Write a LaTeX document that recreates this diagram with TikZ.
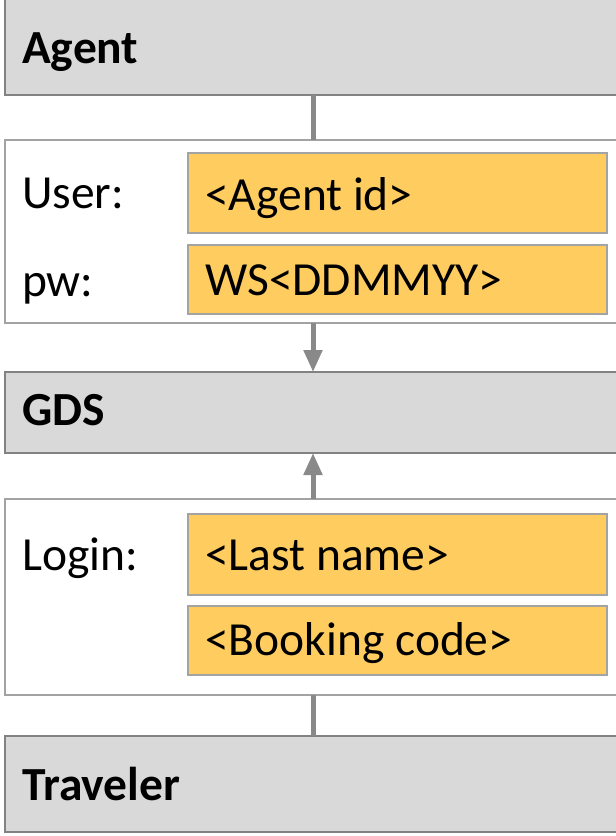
\documentclass[tikz,border=0pt]{standalone}
\usepackage{fontspec}
\setmainfont{Carlito}
\usetikzlibrary{arrows.meta}
\definecolor{fillgray}{HTML}{D9D9D9}
\definecolor{edgegray}{HTML}{828282}
\definecolor{lightedge}{HTML}{A3A3A3}
\definecolor{orangefill}{HTML}{FFCD5F}
\definecolor{conngray}{HTML}{898989}
\begin{document}
\begin{tikzpicture}[x=1pt,y=-1pt,
  box/.style={inner sep=0pt, outer sep=0pt, anchor=north west, line width=2pt},
  graybox/.style={box, draw=edgegray, fill=fillgray, minimum width=620pt},
  whitebox/.style={box, draw=lightedge, fill=white, minimum width=620pt},
  orangebox/.style={box, draw=lightedge, fill=orangefill, minimum width=419pt},
  txt/.style={anchor=base west, inner sep=0pt, font=\fontsize{47.5}{57}\selectfont},
  bold/.style={txt, font=\fontsize{47.5}{57}\selectfont\bfseries},
  conn/.style={draw=conngray, line width=5pt},
  arr/.style={conn, -{Triangle[width=18pt,length=22pt]}, shorten >=0pt}
]
\useasboundingbox (0,0) rectangle (616,836);
\clip (0,0) rectangle (616,836);
\fill[white] (0,0) rectangle (616,836);

\coordinate (cx) at (313,0);

% boxes
\node[graybox, minimum height=100pt] (agent) at (5,-5) {};
\node[whitebox, minimum height=183pt] (cred) at (5,140) {};
\node[orangebox, minimum height=80pt] (o1) at (188,153) {};
\node[orangebox, minimum height=69pt] (o2) at (188,245) {};
\node[graybox, minimum height=81pt] (gds) at (5,372) {};
\node[whitebox, minimum height=196pt] (login) at (5,499) {};
\node[orangebox, minimum height=81pt] (o3) at (188,514) {};
\node[orangebox, minimum height=69pt] (o4) at (188,606) {};
\node[graybox, minimum height=96pt] (trav) at (5,736) {};

% connectors
\draw[conn] (agent.south -| cx) -- (cred.north -| cx);
\draw[arr] (cred.south -| cx) -- (gds.north -| cx);
\draw[arr] (login.north -| cx) -- (gds.south -| cx);
\draw[conn] (login.south -| cx) -- (trav.north -| cx);

% texts
\node[bold] (tagent) at (22,63) {Agent};
\node[txt] (tuser) at (22,208) {User:};
\node[txt] (tpw) at (22,296) {pw:};
\node[txt] (tid) at (205,210) {<Agent id>};
\node[txt] (tws) at (205,295) {WS<DDMMYY>};
\node[bold] (tgds) at (22,425) {GDS};
\node[txt] (tlogin) at (22,570) {Login:};
\node[txt] (tlast) at (205,570) {<Last name>};
\node[txt] (tbook) at (205,655) {<Booking code>};
\node[bold] (ttrav) at (22,800) {Traveler};
\end{tikzpicture}
\end{document}
